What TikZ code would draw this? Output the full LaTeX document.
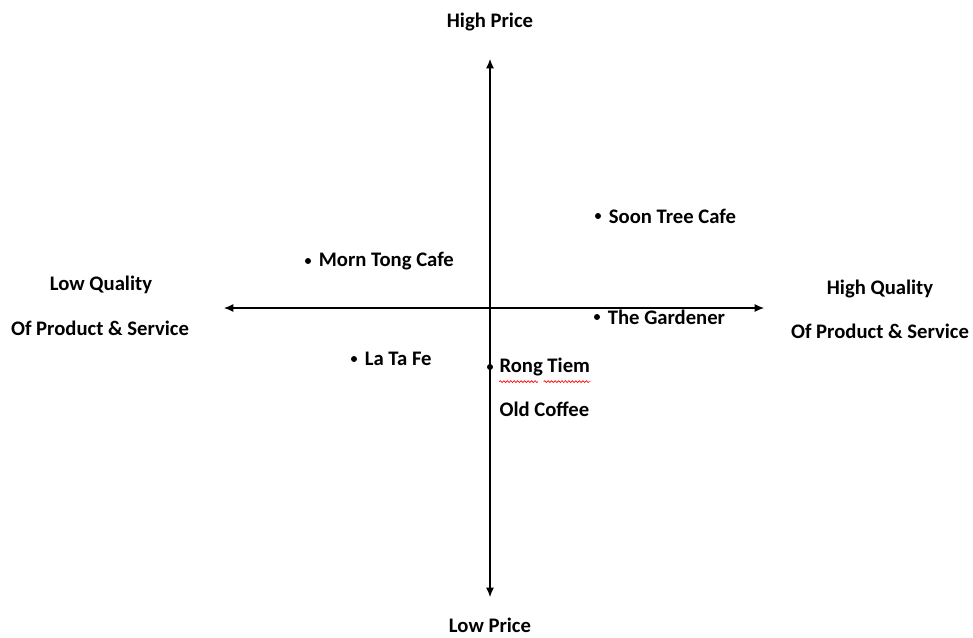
\documentclass[tikz,border=0pt]{standalone}
\usepackage{fontspec}
\setmainfont{Carlito}
\usetikzlibrary{arrows.meta, positioning, decorations.pathmorphing}

\begin{document}
\begin{tikzpicture}[
    x=0.75pt, y=-0.75pt,
    axislabel/.style={font=\bfseries\fontsize{15.5}{18}\selectfont, align=center, inner sep=0pt},
    place/.style={circle, fill=black, inner sep=0pt, minimum size=4.5pt},
    placename/.style={font=\bfseries\fontsize{15.5}{18}\selectfont, anchor=west, inner sep=0pt, xshift=5.5pt},
    axis/.style={line width=0.8pt, -{Latex[length=7pt,width=6pt]}},
    typo/.style={red, line width=0.5pt, decorate, decoration={snake, amplitude=0.7pt, segment length=2.6pt}}
]
\useasboundingbox (0,0) rectangle (973,637);

% axes
\coordinate (origin) at (490,308);
\coordinate (top) at (490,59);
\coordinate (bottom) at (490,597);
\coordinate (left) at (224,308);
\coordinate (right) at (764,308);
\draw [axis] (origin) -- (top);
\draw [axis] (origin) -- (bottom);
\draw [axis] (origin) -- (left);
\draw [axis] (origin) -- (right);

\node (highprice) [axislabel] at (490,22) {High Price};
\node (lowprice) [axislabel] at (490,625) {Low Price};
\node (lowq) [axislabel] at (101,285) {Low Quality};
\node (lowqsub) [axislabel] at (100,328) {Of Product \& Service};
\node (highq) [axislabel] at (880,289) {High Quality};
\node (highqsub) [axislabel] at (880,331) {Of Product \& Service};

% cafes
\node (soontree) [place] at (598,216) {};
\node (soontreename) [placename, right=0pt of soontree] {Soon Tree Cafe};
\node (morntong) [place] at (308,261) {};
\node (morntongname) [placename, right=0pt of morntong] {Morn Tong Cafe};
\node (gardener) [place] at (597,317) {};
\node (gardenername) [placename, right=0pt of gardener] {The Gardener};
\node (latafe) [place] at (354,359) {};
\node (latafename) [placename, right=0pt of latafe] {La Ta Fe};
\node (rongtiem) [place] at (490,367) {};
\node (rongtiemname) [placename, right=0pt of rongtiem, xshift=-1pt] {Rong Tiem};
\node (oldcoffee) [placename, below=31.5pt of rongtiemname.west, anchor=west, xshift=-5.5pt] {Old Coffee};

% spell-check marks
\draw [typo] ([yshift=-4pt]rongtiemname.south west) -- ([xshift=29pt,yshift=-4pt]rongtiemname.south west);
\draw [typo] ([xshift=-35pt,yshift=-4pt]rongtiemname.south east) -- ([yshift=-4pt]rongtiemname.south east);

\end{tikzpicture}
\end{document}
